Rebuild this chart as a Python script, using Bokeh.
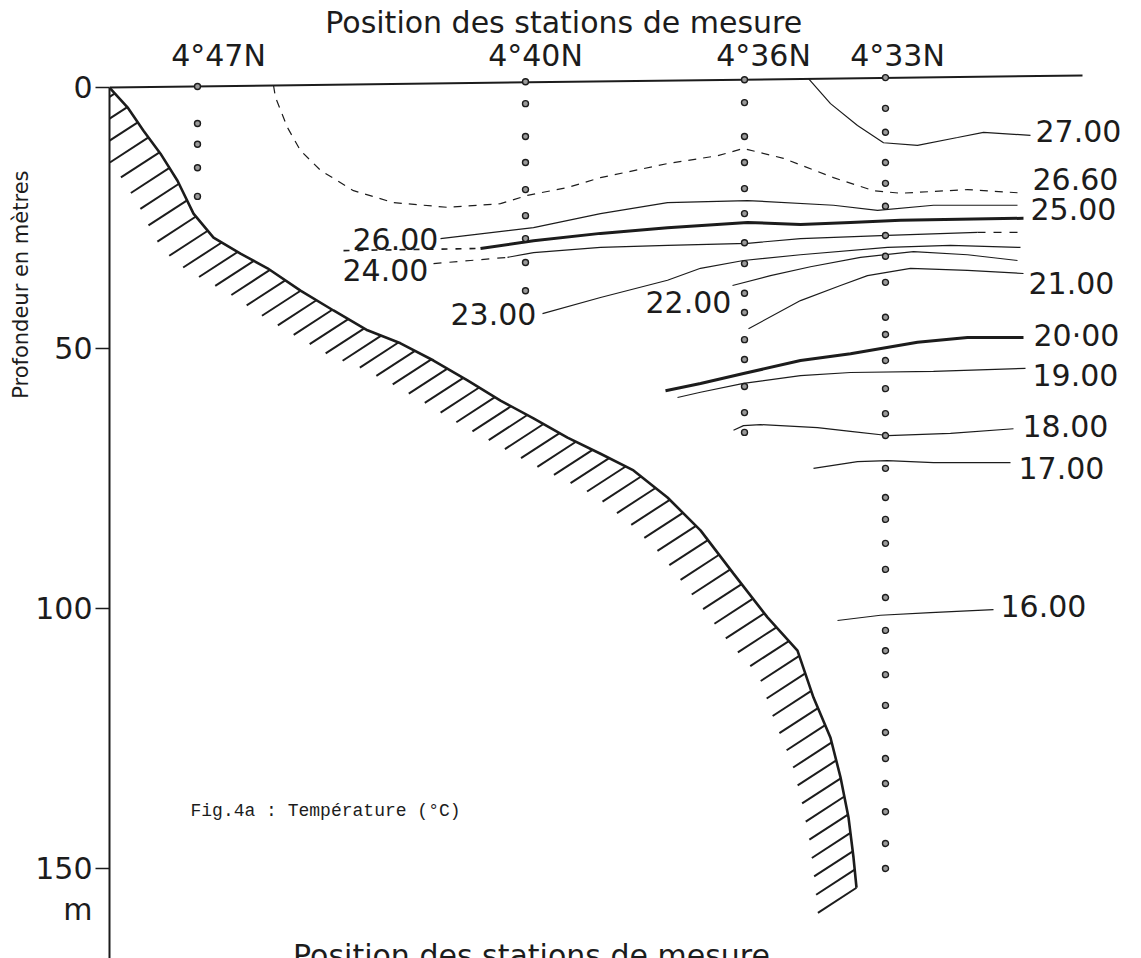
import numpy as np
from bokeh.plotting import figure
from bokeh.models import Range1d, FixedTicker, Title, ColumnDataSource
from bokeh.embed import file_html
from bokeh.resources import INLINE
from bokeh.core.properties import value

# ---------------- data (distance along section, depth in m) ----------------
station_names = ["4°47N", "4°40N", "4°36N", "4°33N"]
station_dist = [88, 416, 635, 776]
st_4747_depth = [-0.2, 6.9, 10.9, 15.4, 20.9]
st_4440_depth = [-1.1, 3.1, 9.4, 14.4, 19.6, 24.6, 29.0, 33.6, 39.0]
st_4436_depth = [-1.5, 2.9, 9.4, 14.4, 19.4, 24.2, 29.8, 33.8, 39.5, 43.2, 48.4,
                 52.2, 57.4, 62.4, 66.2]
st_4433_depth = [-1.9, 4.0, 8.6, 14.4, 18.4, 22.8, 28.4, 32.4, 37.4, 44.1, 47.4,
                 52.4, 57.8, 62.6, 66.8, 73.1, 78.7, 82.9, 87.5, 92.5, 97.9, 104.2,
                 108.1, 112.7, 118.6, 123.8, 128.8, 133.6, 139.0, 145.1, 149.9]

surface_dist = [0, 973]
surface_depth = [0.0, -2.3]

bottom_dist = [0, 18, 34, 51, 68, 84, 104, 131, 158, 191, 224, 258, 291, 324, 358,
               391, 424, 458, 491, 524, 558, 591, 624, 658, 688, 704, 721, 731, 739,
               744, 747]
bottom_depth = [0.0, 3.8, 8.3, 12.7, 17.9, 24.2, 28.8, 31.9, 34.7, 39.0, 42.8, 46.6,
                49.1, 52.4, 56.2, 60.1, 63.5, 67.2, 70.3, 73.5, 78.7, 85.0, 93.3,
                101.7, 108.1, 117.1, 124.8, 132.4, 140.1, 147.8, 153.6]

iso27_x = [699, 721, 748, 774, 808, 848, 874, 921]
iso27_d = [-1.7, 3.1, 7.3, 10.6, 11.1, 9.6, 8.6, 9.2]
iso266_x = [164, 166, 178, 191, 211, 244, 284, 338, 391, 418, 458, 491, 558, 608,
            634, 674, 724, 764, 791, 858, 908]
iso266_d = [-0.4, 1.9, 7.7, 12.1, 15.9, 19.8, 22.1, 23.0, 22.3, 20.7, 19.2, 17.3,
            14.6, 13.1, 11.7, 13.6, 17.3, 19.8, 20.3, 19.6, 20.2]
iso26_x = [331, 424, 491, 558, 638, 724, 768, 824, 908]
iso26_d = [29.0, 26.9, 24.2, 22.1, 21.7, 22.6, 23.6, 22.6, 22.6]
iso25_dash_x = [234, 371]
iso25_dash_d = [31.3, 30.9]
iso25_x = [371, 424, 491, 558, 638, 691, 741, 791, 914]
iso25_d = [30.9, 29.4, 28.0, 26.9, 25.9, 26.3, 25.9, 25.5, 25.1]
iso24_dash_x = [324, 361, 398]
iso24_dash_d = [33.8, 33.2, 32.6]
iso24_x = [398, 424, 491, 558, 638, 691, 778, 868]
iso24_d = [32.6, 31.7, 30.7, 30.3, 29.9, 29.0, 28.4, 27.8]
iso24_dash2_x = [868, 916]
iso24_dash2_d = [27.8, 27.8]
iso23_x = [433, 491, 558, 591, 634, 691, 778, 841, 911]
iso23_d = [43.4, 40.3, 37.0, 34.7, 33.2, 32.1, 30.7, 30.3, 30.7]
iso22_x = [623, 661, 701, 751, 804, 858, 908]
iso22_d = [38.0, 36.1, 34.4, 32.6, 31.5, 32.1, 33.2]
iso21_x = [639, 691, 731, 758, 801, 858, 914]
iso21_d = [46.3, 40.9, 38.0, 36.1, 34.7, 35.1, 35.7]
iso20_x = [556, 591, 634, 691, 741, 808, 858, 914]
iso20_d = [58.2, 56.8, 54.9, 52.4, 51.1, 48.9, 48.0, 48.0]
iso19_x = [568, 591, 634, 691, 741, 824, 916]
iso19_d = [59.5, 58.5, 56.8, 55.3, 54.7, 54.5, 53.9]
iso18_x = [624, 634, 651, 708, 741, 778, 841, 904]
iso18_d = [65.8, 64.9, 64.7, 65.3, 66.0, 66.8, 66.4, 65.5]
iso17_x = [704, 748, 778, 824, 901]
iso17_d = [73.1, 71.8, 71.6, 72.0, 72.0]
iso16_x = [728, 771, 821, 884]
iso16_d = [102.3, 101.3, 100.8, 100.2]

label_text = ["27.00", "26.60", "25.00", "21.00", "20·00", "19.00", "18.00", "17.00",
              "16.00", "26.00", "24.00", "23.00", "22.00"]
label_dist = [926, 923, 921, 919, 924, 923, 913, 909, 891, 243, 233, 341, 536]
label_depth = [8.3, 17.5, 23.4, 37.6, 47.6, 55.1, 64.9, 73.1, 99.6, 29.0, 35.1, 43.4, 41.1]

depth_ticks = [0, 50, 100, 150]
depth_tick_labels = {150: "\n150\nm"}

# ---------------- figure ----------------
Y_BOTTOM, Y_TOP = 167.18, -16.70
W, H = 1141, 958
LEFT = 109
p = figure(width=W, height=H, output_backend="svg", toolbar_location=None,
           x_range=Range1d(0, W - LEFT), y_range=Range1d(Y_BOTTOM, Y_TOP),
           x_axis_location=None, y_axis_location="left",
           min_border=0, min_border_left=LEFT)
p.grid.visible = False
p.outline_line_color = None
p.background_fill_color = "white"
p.border_fill_color = "white"

ink = "#1c1c1c"
num_font = value("DejaVu Sans")

ax = p.yaxis[0]
ax.ticker = FixedTicker(ticks=depth_ticks)
ax.major_label_overrides = depth_tick_labels
ax.bounds = (0, Y_BOTTOM)
ax.axis_line_width = 2
ax.axis_line_color = ink
ax.major_tick_out = 14
ax.major_tick_in = 0
ax.major_tick_line_width = 1.5
ax.major_tick_line_color = ink
ax.minor_tick_out = 0
ax.minor_tick_in = 0
ax.major_label_text_font = "DejaVu Sans"
ax.major_label_text_font_size = "30px"
ax.major_label_text_color = ink
ax.major_label_text_line_height = 1.15
ax.major_label_standoff = 3

# y-axis title placed in the left margin
p.add_layout(Title(text="Profondeur en mètres", align="right", offset=170,
                   text_font="DejaVu Sans", text_font_size="21px",
                   text_font_style="normal", text_color=ink, standoff=0), "left")

# surface
p.line(surface_dist, surface_depth, line_color=ink, line_width=2)

# bottom profile + hatching
p.line(bottom_dist, bottom_depth, line_color=ink, line_width=2.6)
sy = H / (Y_BOTTOM - Y_TOP)
bx = np.array(bottom_dist, dtype=float)
by = np.array(bottom_depth, dtype=float) * sy
s = np.concatenate([[0], np.cumsum(np.hypot(np.diff(bx), np.diff(by)))])
ss = np.arange(8, s[-1] + 1, 18.5)
hx = np.interp(ss, s, bx)
hy = np.interp(ss, s, by)
ang = np.radians(33)
L = 46
p.segment(hx, hy / sy, hx - L * np.cos(ang), (hy + L * np.sin(ang)) / sy,
          line_color=ink, line_width=2)

# isotherms
thin = dict(line_color=ink, line_width=1.2)
p.line(iso27_x, iso27_d, **thin)
p.line(iso266_x, iso266_d, line_dash="8 7", **thin)
p.line(iso26_x, iso26_d, **thin)
p.line(iso25_dash_x, iso25_dash_d, line_dash="6 8", line_color=ink, line_width=1.6)
p.line(iso25_x, iso25_d, line_color=ink, line_width=3)
p.line(iso24_dash_x, iso24_dash_d, line_dash="8 8", **thin)
p.line(iso24_x, iso24_d, **thin)
p.line(iso24_dash2_x, iso24_dash2_d, line_dash="8 8", **thin)
p.line(iso23_x, iso23_d, **thin)
p.line(iso22_x, iso22_d, **thin)
p.line(iso21_x, iso21_d, **thin)
p.line(iso20_x, iso20_d, line_color=ink, line_width=3)
p.line(iso19_x, iso19_d, **thin)
p.line(iso18_x, iso18_d, **thin)
p.line(iso17_x, iso17_d, **thin)
p.line(iso16_x, iso16_d, **thin)

# sampling points
for xs, ds in zip(station_dist, [st_4747_depth, st_4440_depth, st_4436_depth, st_4433_depth]):
    p.scatter([xs] * len(ds), ds, size=6, marker="circle", fill_color="#9a9a9a",
              line_color=ink, line_width=1.4)

# isotherm labels
lab = ColumnDataSource(dict(x=label_dist, y=label_depth, t=label_text))
p.text("x", "y", text="t", source=lab, text_font=num_font, text_font_size="30px",
       text_color=ink, text_align="left", text_baseline="middle")

# station labels
station_label_dx = [21, 10, 19, 12]
p.text([d + o for d, o in zip(station_dist, station_label_dx)], [-6.1] * 4,
       text=station_names, text_font=num_font, text_font_size="30px",
       text_color=ink, text_align="center", text_baseline="middle")

# titles
p.text([459], [-12.5], text=["Position des  stations de mesure"], text_font=num_font,
       text_font_size="30px", text_color=ink, text_align="center", text_baseline="middle")
p.text([422], [163.3], text=["Position des stations de mesure"], text_font=num_font,
       text_font_size="30px", text_color=ink, text_align="center", text_baseline="top")
p.text([81], [138.8], text=["Fig.4a : Température (°C)"],
       text_font=value("Liberation Mono"), text_font_size="18px", text_color=ink,
       text_align="left", text_baseline="middle")

open("out.html", "w").write(file_html(p, INLINE))
